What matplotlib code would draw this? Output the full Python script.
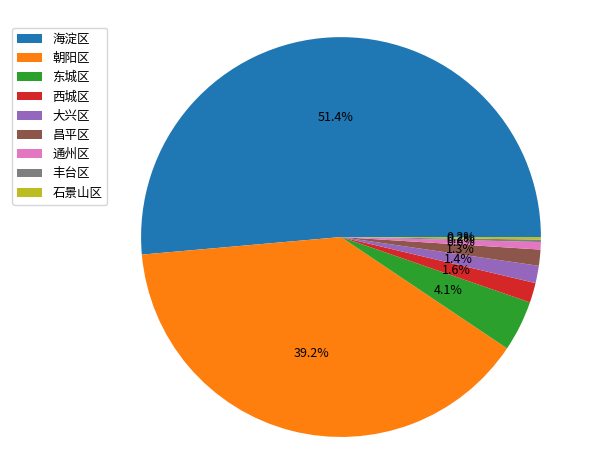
import matplotlib
matplotlib.use('Agg')
import matplotlib.pyplot as plt
plt.rcParams['font.family'] = ['Noto Sans CJK SC', 'DejaVu Sans']

labels = ['海淀区', '朝阳区', '东城区', '西城区', '大兴区', '昌平区', '通州区', '丰台区', '石景山区']
values = [51.4, 39.2, 4.1, 1.6, 1.4, 1.3, 0.6, 0.2, 0.2]

fig = plt.figure(figsize=(5.92, 4.76), dpi=100)
ax = fig.add_axes([0.238, 0.082, 0.676, 0.84])
wedges, texts, autotexts = ax.pie(values, autopct='%1.1f%%', textprops={'fontsize': 9})
ax.set_xlim(-1, 1)
ax.set_ylim(-1, 1)
ax.set_aspect('equal')
fig.legend(wedges, labels, loc='upper left', bbox_to_anchor=(0.01, 0.955), fontsize=9)
fig.savefig('out.png', dpi=100)
